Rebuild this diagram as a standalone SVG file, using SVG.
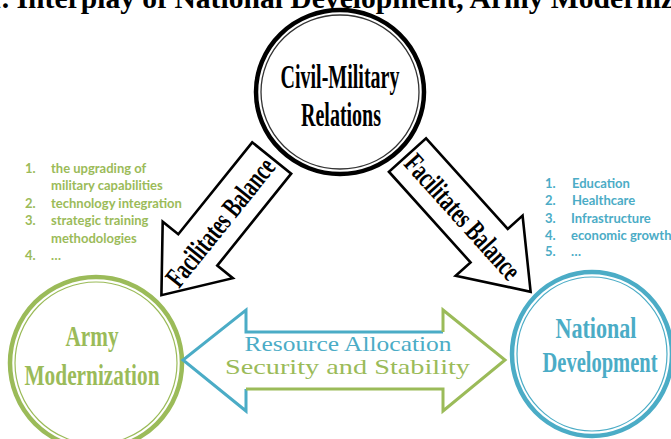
<svg xmlns="http://www.w3.org/2000/svg" width="671" height="439" viewBox="0 0 671 439">
  <style>
    .title { font-family: "Liberation Serif", "Times New Roman", serif; font-weight: bold; font-size: 29.6px; fill: #000; }
    .cond { font-family: "Liberation Serif", "Times New Roman", serif; font-weight: bold; text-anchor: middle; }
    .list { font-family: Lato, "Liberation Sans", sans-serif; font-weight: bold; font-size: 13px; }
    .green { fill: #9BBB59; }
    .blue { fill: #4BACC6; }
    .mid { font-family: "Liberation Serif", "Times New Roman", serif; font-size: 21px; text-anchor: middle; }
    .bigarrow { fill: #fff; stroke: #000; stroke-width: 2.6; stroke-linejoin: miter; }
  </style>

  <rect width="671" height="439" fill="#fff"/>

  <!-- heading, partly outside the canvas -->
  <text class="title" x="-13" y="8">1. Interplay of National Development, Army Modernization</text>

  <!-- Civil-Military Relations -->
  <g id="civil-military">
    <ellipse cx="340" cy="92" rx="84" ry="82" fill="#fff" stroke="#000" stroke-width="4.5"/>
    <ellipse cx="340" cy="92" rx="79" ry="77" fill="none" stroke="#333" stroke-width="1.3"/>
    <text class="cond" x="340" y="88" font-size="33" textLength="119" lengthAdjust="spacingAndGlyphs">Civil-Military</text>
    <text class="cond" x="341" y="126" font-size="33" textLength="80" lengthAdjust="spacingAndGlyphs">Relations</text>
  </g>

  <!-- Army Modernization -->
  <g id="army-modernization">
    <ellipse cx="96" cy="363" rx="86" ry="86" fill="#fff" stroke="#9BBB59" stroke-width="4.5"/>
    <ellipse cx="96" cy="363" rx="81" ry="81" fill="none" stroke="#9BBB59" stroke-width="1.2"/>
    <text class="cond green" x="92" y="346" font-size="30" textLength="53" lengthAdjust="spacingAndGlyphs">Army</text>
    <text class="cond green" x="92" y="385" font-size="30" textLength="135" lengthAdjust="spacingAndGlyphs">Modernization</text>
  </g>

  <!-- National Development -->
  <g id="national-development">
    <ellipse cx="592" cy="354" rx="80" ry="82" fill="#fff" stroke="#4BACC6" stroke-width="4.5"/>
    <ellipse cx="592" cy="354" rx="75" ry="77" fill="none" stroke="#4BACC6" stroke-width="1.2"/>
    <text class="cond blue" x="596" y="338" font-size="30" textLength="81" lengthAdjust="spacingAndGlyphs">National</text>
    <text class="cond blue" x="600" y="372" font-size="30" textLength="115" lengthAdjust="spacingAndGlyphs">Development</text>
  </g>

  <!-- item lists -->
  <g id="army-items" class="list green">
    <text x="25" y="173">1.</text><text x="51" y="173">the upgrading of</text>
    <text x="51" y="190">military capabilities</text>
    <text x="25" y="208">2.</text><text x="51" y="208">technology integration</text>
    <text x="25" y="225">3.</text><text x="51" y="225">strategic training</text>
    <text x="51" y="243">methodologies</text>
    <text x="25" y="260">4.</text><text x="51" y="260">…</text>
  </g>
  <g id="development-items" class="list blue">
    <text x="545" y="188">1.</text><text x="572" y="188">Education</text>
    <text x="545" y="205">2.</text><text x="572" y="205">Healthcare</text>
    <text x="545" y="223">3.</text><text x="571" y="223">Infrastructure</text>
    <text x="545" y="240">4.</text><text x="571" y="240">economic growth</text>
    <text x="545" y="256">5.</text><text x="571" y="256">…</text>
  </g>

  <!-- connectors -->
  <g id="connectors">
    <!-- Civil-Military to Army Modernization -->
    <polygon class="bigarrow" transform="translate(271.7,158) rotate(128.8)" points="0,-25 118,-25 118,-45 176,0 118,45 118,25 0,25"/>
    <text class="cond" font-size="29" transform="translate(220,222) rotate(-51.2)" x="0" y="10" textLength="156" lengthAdjust="spacingAndGlyphs">Facilitates Balance</text>

    <!-- Civil-Military to National Development -->
    <polygon class="bigarrow" transform="translate(407.5,155) rotate(48)" points="0,-25 122,-25 122,-45 184,0 122,45 122,25 0,25"/>
    <text class="cond" font-size="29" transform="translate(463,216.5) rotate(48)" x="0" y="10" textLength="158" lengthAdjust="spacingAndGlyphs">Facilitates Balance</text>

    <!-- two-way arrow between Army Modernization and National Development -->
    <g id="two-way" fill="none" stroke-width="3" stroke-linejoin="miter">
      <path d="M246,389 L246,411 L183,360 L246,310 L246,332 L443,332" stroke="#4BACC6"/>
      <path d="M246,389 L443,389 L443,411 L505,360 L443,310 L443,332" stroke="#9BBB59"/>
    </g>
    <text class="mid blue" x="348" y="351" textLength="207" lengthAdjust="spacingAndGlyphs">Resource Allocation</text>
    <text class="mid green" x="347.5" y="374" textLength="245" lengthAdjust="spacingAndGlyphs">Security and Stability</text>
  </g>
</svg>
